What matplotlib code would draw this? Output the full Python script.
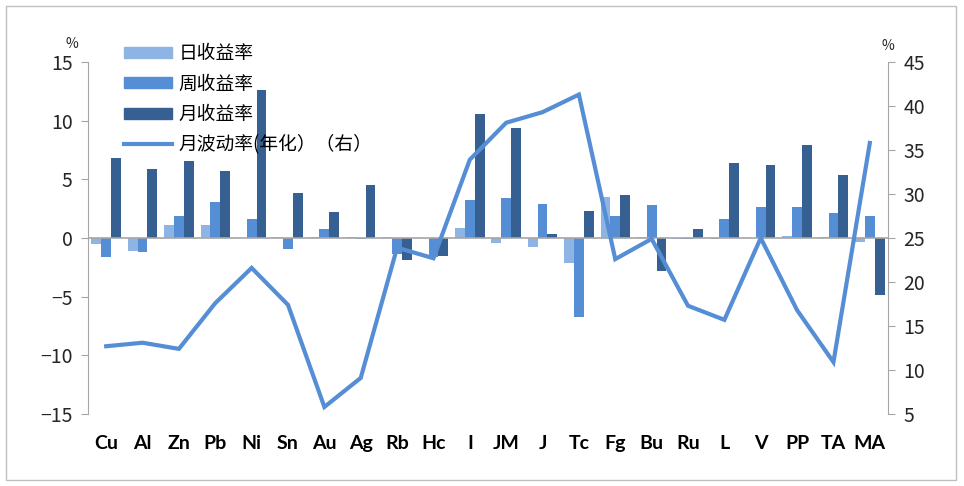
import matplotlib
matplotlib.use("Agg")
import matplotlib.pyplot as plt
import numpy as np
from matplotlib.patches import Rectangle
from matplotlib.lines import Line2D
from matplotlib.patches import Patch

plt.rcParams["font.family"] = ["Noto Sans CJK SC", "DejaVu Sans"]

# 品种
categories = ["Cu", "Al", "Zn", "Pb", "Ni", "Sn", "Au", "Ag", "Rb", "Hc", "I",
              "JM", "J", "Tc", "Fg", "Bu", "Ru", "L", "V", "PP", "TA", "MA"]
# 日收益率 (%)
daily = [-0.5, -1.1, 1.1, 1.1, 0.0, 0.1, 0.1, 0.1, 0.1, 0.0, 0.85,
         -0.4, -0.8, -2.1, 3.5, 0.05, -0.05, -0.1, 0.0, 0.2, 0.1, -0.3]
# 周收益率 (%)
weekly = [-1.6, -1.2, 1.9, 3.1, 1.6, -0.9, 0.8, -0.1, -1.4, -1.6, 3.2,
          3.4, 2.9, -6.7, 1.9, 2.8, -0.1, 1.6, 2.6, 2.6, 2.1, 1.9]
# 月收益率 (%)
monthly = [6.8, 5.9, 6.6, 5.7, 12.6, 3.8, 2.2, 4.5, -1.9, -1.5, 10.6,
           9.4, 0.3, 2.3, 3.7, -2.8, 0.8, 6.4, 6.2, 7.9, 5.4, -4.9]
# 月波动率(年化) (%) 右轴
volatility = [12.7, 13.1, 12.4, 17.6, 21.6, 17.4, 5.8, 9.1, 23.9, 22.7, 33.9,
              38.1, 39.3, 41.3, 22.6, 24.9, 17.3, 15.7, 25.0, 16.8, 10.9, 35.8]

c_day = "#8DB4E2"
c_week = "#558ED5"
c_month = "#376092"
c_axis = "#A6A6A6"

fig = plt.figure(figsize=(9.64, 4.86), dpi=100)
ax = fig.add_axes([88 / 964, 1 - 414 / 486, 800 / 964, 352 / 486])
ax2 = ax.twinx()

x = np.arange(len(categories))
w = 0.27
ax.bar(x - w, daily, w, color=c_day, zorder=2)
ax.bar(x, weekly, w, color=c_week, zorder=2)
ax.bar(x + w, monthly, w, color=c_month, zorder=2)
ax.axhline(0, color=c_axis, lw=1.2, zorder=3)

ax2.plot(x, volatility, color=c_week, lw=3, solid_joinstyle="miter", zorder=4)

ax.set_xlim(-0.5, len(categories) - 0.5)
ax.set_ylim(-15, 15)
ax.set_yticks([-15, -10, -5, 0, 5, 10, 15])
ax2.set_ylim(5, 45)
ax2.set_yticks(range(5, 50, 5))

for a in (ax, ax2):
    a.spines["top"].set_visible(False)
    a.spines["bottom"].set_visible(False)
    a.spines["left"].set_color(c_axis)
    a.spines["right"].set_color(c_axis)
ax.spines["right"].set_visible(False)
ax2.spines["left"].set_visible(False)

ax.tick_params(axis="y", direction="out", length=5, color=c_axis,
               labelsize=14, labelcolor="#262626", pad=6)
ax2.tick_params(axis="y", direction="out", length=5, color=c_axis,
                labelsize=14, labelcolor="#262626", pad=6)
ax.set_xticks(x)
ax.set_xticklabels(categories, fontsize=14, fontweight="bold",
                   family=["Lato", "DejaVu Sans"])
ax.tick_params(axis="x", length=0, pad=15)

ax.text(-0.012, 1.03, "%", transform=ax.transAxes, fontsize=10,
        ha="right", va="bottom", color="#262626")
ax2.text(1.0, 1.025, "%", transform=ax.transAxes, fontsize=10,
         ha="center", va="bottom", color="#262626")

handles = [Patch(color=c_day), Patch(color=c_week), Patch(color=c_month),
           Line2D([0], [0], color=c_week, lw=3)]
labels = ["日收益率", "周收益率", "月收益率", "月波动率(年化）（右）"]
leg = ax2.legend(handles, labels, loc="upper left",
                 bbox_to_anchor=(0.035, 1.075), frameon=False,
                 prop={"size": 13.5, "weight": "medium"},
                 handlelength=2.6, handleheight=0.5, labelspacing=0.5,
                 handletextpad=0.35, borderaxespad=0)
leg.set_zorder(10)

fig.patches.append(Rectangle((6 / 964, 6 / 486), 950 / 964, 474 / 486,
                             transform=fig.transFigure, fill=False,
                             edgecolor="#BFBFBF", lw=1))

fig.savefig("out.png", dpi=100)
